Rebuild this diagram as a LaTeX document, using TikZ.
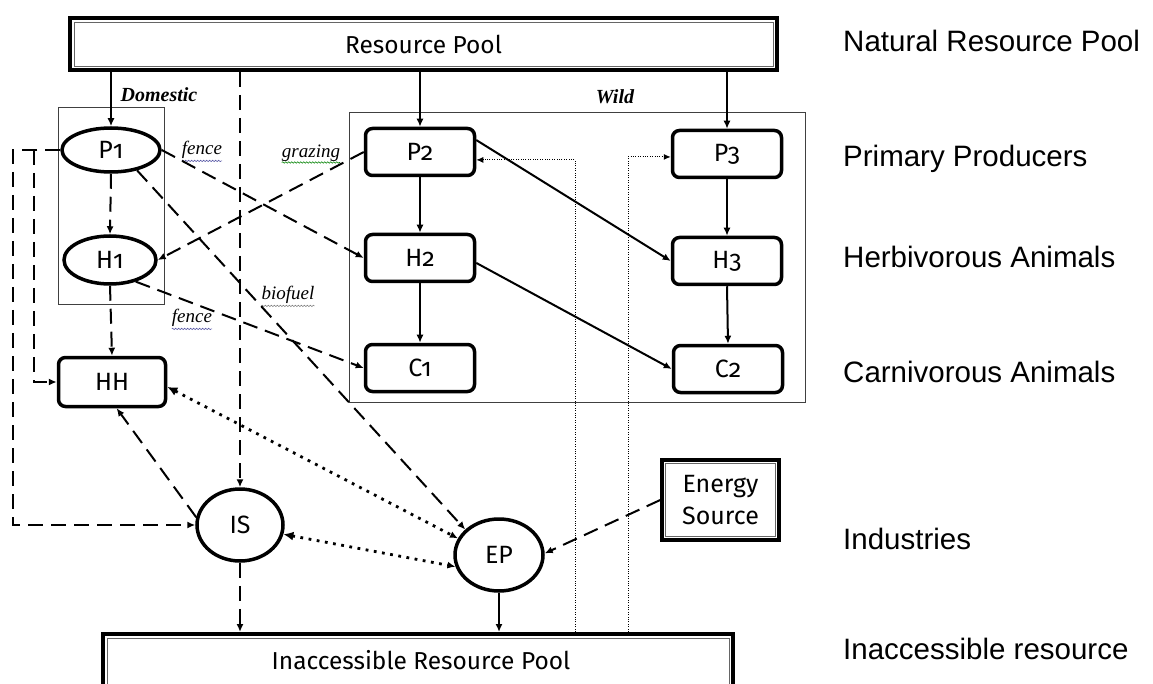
\documentclass[tikz,border=0pt]{standalone}
\usepackage{fontspec}
\setmainfont{Liberation Sans}
\newfontfamily\nfont{Fira Sans}[Numbers=OldStyle]
\newfontfamily\serfont{Liberation Serif}
\usetikzlibrary{arrows.meta,shapes.geometric,calc,decorations.pathmorphing}
\tikzset{
  box/.style={draw, line width=3.5pt, rounded corners=7pt, minimum width=109pt, minimum height=47pt, inner sep=0pt, font=\nfont\fontsize{25}{27}\selectfont},
  ell/.style={draw, ellipse, line width=3.5pt, inner sep=0pt, font=\nfont\fontsize{25}{27}\selectfont},
  pool/.style={draw, line width=4pt, inner sep=0pt, font=\nfont\fontsize{24.5}{27}\selectfont},
  con/.style={line width=2pt, -{Latex[length=8pt,width=7pt]}},
  dsh/.style={con, dash pattern=on 15pt off 8pt},
  dts/.style={line width=2.8pt, dash pattern=on 2.8pt off 5.5pt, {Latex[length=10pt,width=9pt]}-{Latex[length=8pt,width=7pt]}},
  fdot/.style={line width=1pt, dash pattern=on 1pt off 1.4pt, -{Latex[length=7pt,width=6pt]}},
  grp/.style={draw=black!75, line width=0.9pt, inner sep=0pt},
  side/.style={anchor=base west, inner sep=0pt, font=\fontsize{29.5}{32}\selectfont},
  lbl/.style={font=\serfont\itshape\fontsize{19}{21}\selectfont, inner sep=0pt},
  glbl/.style={font=\serfont\bfseries\itshape\fontsize{20}{22}\selectfont, inner sep=0pt},
  wavy/.style={decorate, decoration={snake, segment length=3pt, amplitude=0.7pt}, line width=0.6pt}
}
\begin{document}
\begin{tikzpicture}[x=1pt,y=-1pt]
\useasboundingbox (0,0) rectangle (1153,684);

% group frames
\node[grp, minimum width=106pt, minimum height=197pt] (dom) at (111,205.5) {};
\node[grp, minimum width=456pt, minimum height=290pt] (wild) at (577,257) {};
\node[glbl] (domlbl) at (159,95) {Domestic};
\node[glbl] (wildlbl) at (615,97) {Wild};

% pools
\node[pool, minimum width=707pt, minimum height=52pt] (RP) at (423.5,44) {Resource Pool};
\draw[line width=0.8pt, black!60] ([shift={(6,6)}]RP.north west) rectangle ([shift={(-6,-6)}]RP.south east);
\node[pool, minimum width=630pt, minimum height=54pt] (IRP) at (418,661) {};
\draw[line width=0.8pt, black!60] ([shift={(6,6)}]IRP.north west) rectangle ([shift={(-6,-6)}]IRP.south east);
\node[font=\nfont\fontsize{24.5}{27}\selectfont, inner sep=0pt] (IRPt) at (421,660) {Inaccessible Resource Pool};
\node[pool, line width=3.5pt, minimum width=117pt, minimum height=80pt, align=center, font=\nfont\fontsize{25}{32}\selectfont] (ES) at (720.5,500) {Energy\\Source};
\draw[line width=0.8pt, black!60] ([shift={(5,5)}]ES.north west) rectangle ([shift={(-5,-5)}]ES.south east);

% nodes
\node[ell, minimum width=98pt, minimum height=44pt] (P1) at (111,150) {P1};
\node[ell, minimum width=92pt, minimum height=48pt] (H1) at (110,260) {H1};
\node[box, minimum width=107pt, minimum height=49pt] (HH) at (112,382) {HH};
\node[ell, minimum width=86pt, minimum height=72pt] (IS) at (240,525) {IS};
\node[ell, minimum width=88pt, minimum height=72pt] (EP) at (499,555) {EP};
\node[box] (P2) at (420,152) {P2};
\node[box] (H2) at (420,258) {H2};
\node[box] (C1) at (420,368) {C1};
\node[box] (P3) at (727,154) {P3};
\node[box] (H3) at (727,261) {H3};
\node[box] (C2) at (728,369) {C2};

% side labels
\node[side] (s1) at (843,52) {Natural Resource Pool};
\node[side] (s2) at (843,167) {Primary Producers};
\node[side] (s3) at (843,268) {Herbivorous Animals};
\node[side] (s4) at (843,382) {Carnivorous Animals};
\node[side] (s5) at (843,549) {Industries};
\node[side] (s6) at (843,659) {Inaccessible resource};

% edge labels
\node[lbl] (f1) at (202,150) {fence};
\node[lbl] (gz) at (311,153) {grazing};
\node[lbl] (bf) at (288,295) {biofuel};
\node[lbl] (f2) at (192,318) {fence};
\draw[wavy, blue!30!gray] ($(f1.south west)+(0,2)$) -- ($(f1.south east)+(0,2)$);
\draw[wavy, green!50!black] ($(gz.south west)+(0,1)$) -- ($(gz.south east)+(0,1)$);
\draw[wavy, gray] ($(bf.south west)+(0,2)$) -- ($(bf.south east)+(0,2)$);
\draw[wavy, blue!30!gray] ($(f2.south west)+(0,2)$) -- ($(f2.south east)+(0,2)$);

% connectors from the resource pool
\draw[con] (RP.south -| P1.north) -- (P1.north);
\draw[con] (RP.south -| P2.north) -- (P2.north);
\draw[con] (RP.south -| P3.north) -- (P3.north);
\draw[dsh] (RP.south -| IS.north) -- (IS.north);

% domestic chain
\draw[dsh] (P1.south) -- (H1.north);
\draw[dsh] (H1.south) -- (HH.north);
\draw[dsh] (P1.west) -- ++(-47,0) |- (IS.west);
\coordinate (br) at ($(P1.west)+(-26,0)$);
\draw[dsh] (br) |- (HH.west);
\draw[dsh] (P1.east) -- (H2.west);
\draw[dsh] (P2.west) -- (H1.east);
\draw[dsh] (P1.-38) -- (EP.143);
\draw[dsh] (H1.-40) -- (C1.west);

% industries
\draw[dsh] (IS.170) -- (HH.-80);
\draw[dts] (HH.-5) -- (EP.158);
\draw[dts] (IS.-12) -- (EP.195);
\draw[dsh] (ES.west) -- (EP.2);
\draw[dsh] (IS.south) -- (IS.south |- IRP.north);
\draw[con] (EP.south) -- (EP.south |- IRP.north);

% wild chain
\draw[con] (P2.south) -- (H2.north);
\draw[con] (H2.south) -- (C1.north);
\draw[con] (P3.south) -- (H3.north);
\draw[con] (H3.south) -- (C2.north);
\draw[con] (P2.12) -- (H3.west);
\draw[con] (H2.-5) -- (C2.west);

% feedback from the inaccessible pool
\coordinate (d1) at (575,632);
\coordinate (d2) at (628,632);
\draw[fdot] (d1) |- (P2.-8);
\draw[fdot] (d2) |- (P3.183);
\end{tikzpicture}
\end{document}
